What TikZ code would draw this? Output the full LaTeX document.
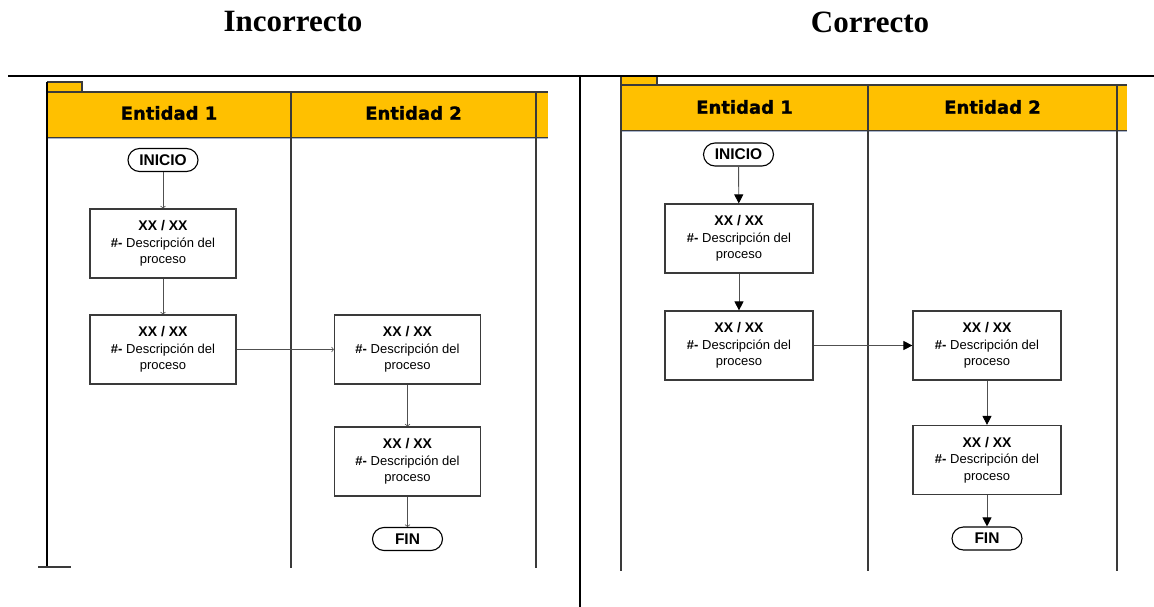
\documentclass[tikz,border=0pt]{standalone}
\usepackage{fontspec}
\setmainfont{Liberation Sans}
\newfontfamily\titlefont{Liberation Serif}
\newfontfamily\headfont[FakeBold=1.2]{DejaVu Sans}
\usetikzlibrary{arrows.meta}

\definecolor{laneyellow}{HTML}{FFC000}
\definecolor{edgegray}{HTML}{3A3A3A}
\definecolor{wiregray}{HTML}{505050}
\definecolor{hazeblue}{HTML}{A8B4CC}

\begin{document}
\begin{tikzpicture}[x=1pt,y=-1pt,
  title/.style={font=\titlefont\bfseries\fontsize{31}{34}\selectfont},
  headtxt/.style={font=\headfont\bfseries\fontsize{18}{20}\selectfont},
  proc/.style={draw=edgegray, line width=1.2pt, fill=white, inner sep=0pt,
    minimum height=69pt, align=center,
    font=\fontsize{13}{16.5}\selectfont},
  term/.style={draw=black, line width=1.1pt, fill=white, rounded corners=11.5pt,
    minimum width=70pt, minimum height=23pt, inner sep=0pt,
    font=\fontsize{15.5}{17}\selectfont\bfseries},
  lane/.style={draw=edgegray, line width=1.5pt},
  flowbad/.style={draw=wiregray, line width=0.8pt,
    -{Straight Barb[length=2pt,width=5pt,line width=0.6pt]}},
  flowok/.style={draw=wiregray, line width=0.9pt,
    -{Triangle[length=9pt,width=9pt,color=black]}}
]
\useasboundingbox (0,0) rectangle (1154,607);

% ---- titles and frame rules
\node[title] (tbad) at (293,22) {Incorrecto};
\node[title] (tok)  at (870,22) {Correcto};
\draw[line width=2pt] (8,76) -- (1154,76);
\draw[line width=2pt] (580,76) -- (580,607);

% ================= left swimlane =================
\fill[laneyellow] (47,82) rectangle (82,92);
\draw[edgegray, line width=1.2pt] (47,82) -- (82,82) -- (82,92);
\fill[laneyellow] (47,92) rectangle (548,138);
\draw[edgegray, line width=1.2pt] (47,92) -- (548,92);
\draw[edgegray, line width=1.2pt] (47,137.5) -- (548,137.5);
\draw[hazeblue, line width=1pt] (47,139) -- (548,139);
\draw[black, line width=2pt] (47,82) -- (47,567);
\draw[lane] (291,92) -- (291,568);
\draw[lane] (536,92) -- (536,568);
\draw[edgegray, line width=2pt] (38,567) -- (71,567);
\node[headtxt] (hl1) at (169,113) {Entidad 1};
\node[headtxt] (hl2) at (413.5,113) {Entidad 2};

\node[term] (li) at (163,160) {INICIO};
\node[proc, minimum width=146pt] (lb1) at (163,243.5)
  {{\fontsize{14}{16.5}\selectfont\bfseries XX / XX}\\\textbf{\#-} Descripción del\\proceso};
\node[proc, minimum width=146pt] (lb2) at (163,349.5)
  {{\fontsize{14}{16.5}\selectfont\bfseries XX / XX}\\\textbf{\#-} Descripción del\\proceso};
\node[proc, minimum width=146pt] (lb3) at (407.5,349.5)
  {{\fontsize{14}{16.5}\selectfont\bfseries XX / XX}\\\textbf{\#-} Descripción del\\proceso};
\node[proc, minimum width=146pt] (lb4) at (407.5,461.5)
  {{\fontsize{14}{16.5}\selectfont\bfseries XX / XX}\\\textbf{\#-} Descripción del\\proceso};
\node[term] (lf) at (407.5,539) {FIN};

\draw[flowbad] (li) -- (lb1);
\draw[flowbad] (lb1) -- (lb2);
\draw[flowbad] (lb2) -- (lb3);
\draw[flowbad] (lb3) -- (lb4);
\draw[flowbad] (lb4) -- (lf);

% ================= right swimlane =================
\fill[laneyellow] (622,77) rectangle (657,85);
\draw[edgegray, line width=1.2pt] (657,77) -- (657,85);
\fill[laneyellow] (621,85) rectangle (1127,131);
\draw[edgegray, line width=1.2pt] (621,85) -- (1127,85);
\draw[edgegray, line width=1.2pt] (621,130.5) -- (1127,130.5);
\draw[hazeblue, line width=1pt] (621,132) -- (1127,132);
\draw[lane] (621,77) -- (621,571);
\draw[lane] (868,85) -- (868,571);
\draw[lane] (1117,85) -- (1117,571);
\node[headtxt] (hr1) at (744.5,107) {Entidad 1};
\node[headtxt] (hr2) at (992.5,107) {Entidad 2};

\node[term] (ri) at (738.5,154.5) {INICIO};
\node[proc, minimum width=148pt] (rb1) at (739,238.5)
  {{\fontsize{14}{16.5}\selectfont\bfseries XX / XX}\\\textbf{\#-} Descripción del\\proceso};
\node[proc, minimum width=148pt] (rb2) at (739,345.5)
  {{\fontsize{14}{16.5}\selectfont\bfseries XX / XX}\\\textbf{\#-} Descripción del\\proceso};
\node[proc, minimum width=148pt] (rb3) at (987,345.5)
  {{\fontsize{14}{16.5}\selectfont\bfseries XX / XX}\\\textbf{\#-} Descripción del\\proceso};
\node[proc, minimum width=148pt] (rb4) at (987,460)
  {{\fontsize{14}{16.5}\selectfont\bfseries XX / XX}\\\textbf{\#-} Descripción del\\proceso};
\node[term] (rf) at (987,538.5) {FIN};

\draw[flowok] (ri) -- (rb1);
\draw[flowok] (rb1) -- (rb2);
\draw[flowok] (rb2) -- (rb3);
\draw[flowok] (rb3) -- (rb4);
\draw[flowok] (rb4) -- (rf);
\end{tikzpicture}
\end{document}
